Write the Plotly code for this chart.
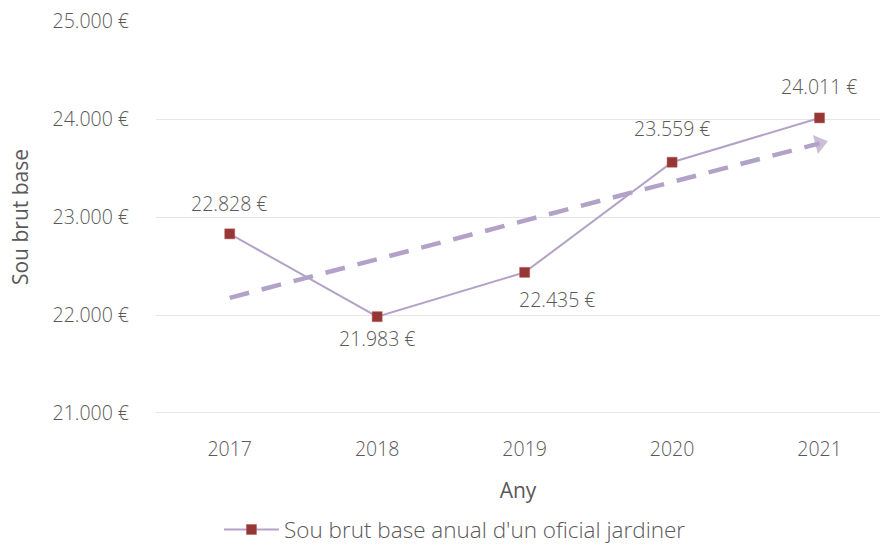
import numpy as np
import plotly.graph_objects as go

# Annual base gross salary of a gardener
years = [2017, 2018, 2019, 2020, 2021]
salary = [22828, 21983, 22435, 23559, 24011]
series_name = "Sou brut base anual d'un oficial jardiner"

y_ticks = [21000, 22000, 23000, 24000, 25000]

LINE = "#B3A2C7"
MARK = "#953735"
TEXT = "#595959"
FONT = "Open Sans"


def eur(v):
    return f"{v:,.0f}".replace(",", ".") + " €"


# Linear trend over the series
idx = np.array(years, dtype=float)
slope, intercept = np.polyfit(idx, salary, 1)
trend = slope * idx + intercept

fig = go.Figure()

fig.add_trace(go.Scatter(
    x=years, y=trend, mode="lines+markers",
    line=dict(color=LINE, width=4.5, dash="20px,13px"),
    marker=dict(symbol=["circle"] * (len(years) - 1) + ["triangle-up"],
                size=[0] * (len(years) - 1) + [17],
                angleref="previous", color=LINE, line=dict(width=0)),
    showlegend=False, hoverinfo="skip",
))

fig.add_trace(go.Scatter(
    x=years, y=salary, mode="lines+markers", name=series_name,
    line=dict(color=LINE, width=2),
    marker=dict(symbol="square", size=10, color=MARK,
                line=dict(color="#B85450", width=0.5)),
))

# value labels placed around each point
offsets = [(0, 30), (0, -22), (33, -27), (0, 34), (0, 31)]
for yr, v, (dx, dy) in zip(years, salary, offsets):
    fig.add_annotation(x=yr, y=v, text=eur(v), showarrow=False,
                       xshift=dx, yshift=dy,
                       font=dict(family=FONT, size=19.5, color=TEXT, weight=300))

fig.update_layout(
    width=880, height=544,
    margin=dict(l=156, r=0, t=21, b=131),
    paper_bgcolor="white", plot_bgcolor="white",
    font=dict(family=FONT, color=TEXT),
    legend=dict(orientation="h", xref="container", yref="container",
                x=0.517, xanchor="center", y=0.026, yanchor="middle",
                itemwidth=55,
                font=dict(family=FONT, size=22.5, color=TEXT, weight=300)),
    xaxis=dict(
        range=[2016.5, 2021.41],
        tickvals=years, ticktext=[str(y) for y in years],
        showgrid=False, zeroline=False, showline=False,
        tickfont=dict(family=FONT, size=19.5, color=TEXT, weight=300),
        ticklabelstandoff=22,
        title=dict(text="Any", standoff=22,
                   font=dict(family=FONT, size=21, color=TEXT)),
    ),
    yaxis=dict(
        range=[21000, 25000], tickvals=y_ticks,
        ticktext=[eur(v) for v in y_ticks],
        showgrid=True, gridcolor="#E6E6E6", gridwidth=1,
        zeroline=False, showline=False,
        tickfont=dict(family=FONT, size=19.5, color=TEXT, weight=300),
        ticklabelstandoff=26,
        title=dict(text="Sou brut base", standoff=18,
                   font=dict(family=FONT, size=21, color=TEXT)),
    ),
)

# baseline at the bottom of the value axis
fig.add_shape(type="line", xref="paper", yref="y", x0=0, x1=1,
              y0=21000, y1=21000, line=dict(color="#D0D0D0", width=1),
              layer="below")

fig.write_html("out.html")
